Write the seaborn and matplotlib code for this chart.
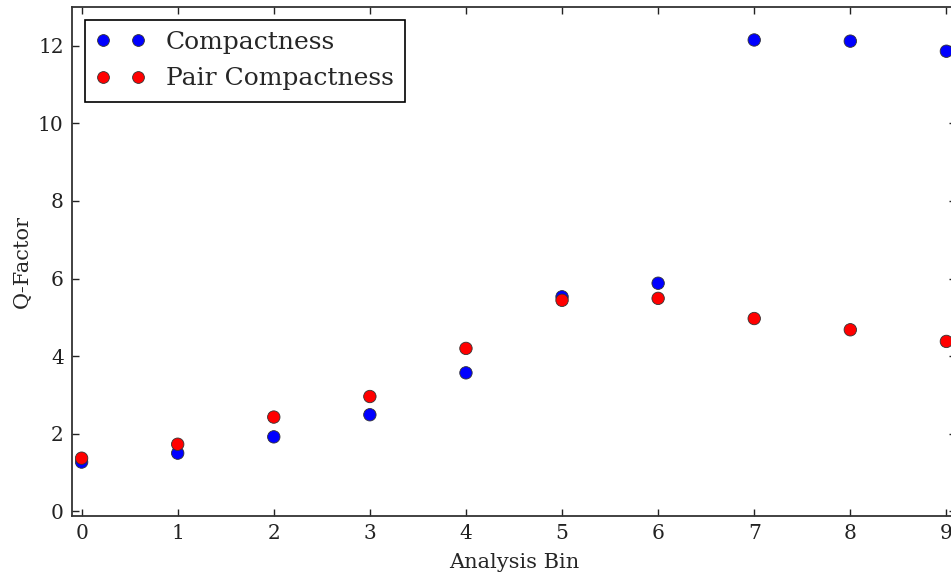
import matplotlib
matplotlib.use("Agg")
import matplotlib.pyplot as plt
from matplotlib.lines import Line2D
import seaborn as sns
import pandas as pd

bins = [0, 1, 2, 3, 4, 5, 6, 7, 8, 9]
compactness = [1.27, 1.50, 1.92, 2.49, 3.57, 5.53, 5.88, 12.15, 12.12, 11.86]
pair_compactness = [1.37, 1.73, 2.43, 2.96, 4.20, 5.44, 5.49, 4.97, 4.68, 4.38]
series_names = ["Compactness", "Pair Compactness"]
series_colors = ["#0000ff", "#ff0000"]

sns.set_style("ticks")
plt.rcParams["font.family"] = ["DejaVu Serif"]
plt.rcParams["xtick.direction"] = "in"
plt.rcParams["ytick.direction"] = "in"

df = pd.DataFrame({
    "bin": bins * 2,
    "q": compactness + pair_compactness,
    "series": [series_names[0]] * len(bins) + [series_names[1]] * len(bins),
})

fig = plt.figure(figsize=(9.51, 5.77), dpi=100)
ax = fig.add_axes([72 / 951, (577 - 516) / 577, (956 - 72) / 951, (516 - 7) / 577])

sns.scatterplot(data=df, x="bin", y="q", hue="series", palette=series_colors,
                s=80, edgecolor="#333333", linewidth=0.6, ax=ax, legend=False, zorder=3)

ax.set_xlim(-0.1, 9.1)
ax.set_ylim(-0.12, 13.0)
ax.set_xticks(bins)
ax.set_yticks([0, 2, 4, 6, 8, 10, 12])
ax.tick_params(axis="both", which="both", direction="in", length=5, width=1,
               top=True, right=True, labelsize=14.5, colors="#222222", pad=6)
for sp in ax.spines.values():
    sp.set_linewidth(1.3)
    sp.set_color("#333333")
    sp.set_visible(True)

ax.set_xlabel("Analysis Bin", fontsize=15, labelpad=7)
ax.set_ylabel("Q-Factor", fontsize=15, labelpad=4)

handles = [Line2D([0], [0], linestyle="", marker="o", markersize=8.5,
                  markerfacecolor=c, markeredgecolor="#333333", markeredgewidth=0.6)
           for c in series_colors]
leg = ax.legend(handles, series_names, loc="upper left", numpoints=2, fontsize=18,
                frameon=True, fancybox=False, edgecolor="black", framealpha=1,
                borderaxespad=0.5, handlelength=2.0, handletextpad=0.8,
                borderpad=0.45, labelspacing=0.55)
leg.get_frame().set_linewidth(1.2)

fig.savefig("out.png", dpi=100)
